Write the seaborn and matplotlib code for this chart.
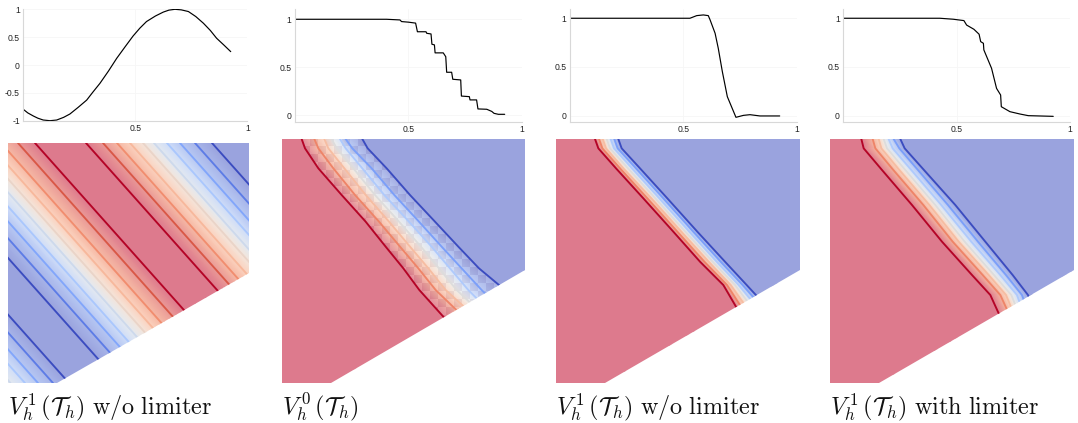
import numpy as np
import matplotlib
matplotlib.use("Agg")
import matplotlib.pyplot as plt
from matplotlib.colors import LinearSegmentedColormap, ListedColormap
from matplotlib.patches import Polygon
import seaborn as sns

W, H = 1078, 423
sns.set_theme(style="white")
plt.rcParams['font.family'] = ['Liberation Sans', 'DejaVu Sans']
plt.rcParams['mathtext.fontset'] = 'cm'

# profile curves
sine_x = [0, .02, .045, .065, .089, .119, .149, .18, .208, .245, .283, .31, .342, .38, .417, .455, .49, .52, .55,
          .59, .625, .65, .677, .705, .737, .77, .804, .835, .863, .895, .926]
sine_y = [-.796, -.86, -.916, -.955, -.988, -1, -.988, -.94, -.88, -.76, -.63, -.49, -.33, -.11, .12, .33, .52, .66, .78,
          .88, .95, .985, 1, .99, .96, .87, .75, .62, .48, .36, .24]
p0_x = [0, .404, .463, .47, .5, .532, .54, .578, .581, .6, .604, .615, .618, .654, .665, .669, .691, .696, .731,
        .734, .769, .772, .801, .807, .846, .868, .878, .897, .925]
p0_y = [1, 1, .993, .976, .97, .96, .87, .87, .854, .847, .74, .733, .65, .65, .61, .448, .448, .375, .368,
        .2, .194, .16, .16, .066, .0625, .04, .02, .01, .01]
nolim_x = [0, .529, .559, .588, .61, .618, .64, .654, .672, .694, .732, .765, .794, .838, .925]
nolim_y = [1, 1, 1.027, 1.034, 1.027, .983, .846, .692, .452, .195, -.017, .003, .01, -.003, -.003]
lim_x = [0, .426, .485, .532, .544, .576, .599, .606, .618, .62, .654, .676, .694, .697, .735, .779, .816, .926]
lim_y = [1, 1, .99, .976, .93, .887, .836, .76, .743, .675, .486, .28, .212, .092, .041, .017, 0, -.007]

# contour positions, panel 1: x where each straight contour meets the top edge
p1_cross = [-211.5, -197, -184, -169, -153, -102.5, -85, -70, -56.6, -44, -32, -20, -7, 10, 27,
            78, 95, 109, 122, 135, 146, 159, 172, 187, 204]
p1_level = [4/9, 3/9, 2/9, 1/9, 0, 0, 1/9, 2/9, 3/9, 4/9, 5/9, 6/9, 7/9, 8/9, 1,
            1, 8/9, 7/9, 6/9, 5/9, 4/9, 3/9, 2/9, 1/9, 0]
p1_rows = [0, 240]

# panels 2-4: contour x at each row, seven levels, last row runs past the bottom edge
levels = [1, .8, .65, .5, .35, .2, 0]
p2_rows = [12, 40, 100, 180, 260, 335, 400, 465, 545, 760]
p2_lines = [[80, 90, 130, 200, 272, 332, 385, 433, 505, 700],
            [118, 130, 175, 240, 312, 375, 430, 482, 565, 760],
            [148, 160, 208, 272, 342, 405, 460, 512, 600, 795],
            [170, 185, 235, 300, 372, 438, 492, 545, 630, 825],
            [195, 212, 262, 328, 402, 470, 525, 580, 660, 855],
            [212, 232, 290, 358, 432, 500, 560, 620, 700, 895],
            [262, 278, 335, 405, 480, 550, 612, 690, 765, 960]]
p3_rows = [12, 40, 100, 190, 290, 380, 450, 515, 600, 760]
p3_lines = [[135, 145, 198, 280, 370, 450, 520, 558, 640, 790],
            [147, 157, 210, 292, 382, 463, 531, 573, 655, 805],
            [158, 168, 220, 304, 394, 476, 542, 588, 670, 820],
            [170, 180, 234, 316, 406, 488, 555, 604, 685, 835],
            [182, 192, 246, 328, 418, 500, 566, 620, 700, 850],
            [193, 203, 258, 340, 430, 512, 578, 635, 715, 865],
            [205, 215, 270, 352, 442, 525, 590, 650, 730, 880]]
p4_rows = [12, 40, 105, 210, 320, 420, 480, 535, 620, 760]
p4_lines = [[118, 125, 180, 270, 360, 450, 505, 530, 600, 730],
            [152, 160, 214, 304, 392, 482, 535, 560, 630, 760],
            [170, 178, 232, 322, 410, 500, 552, 575, 645, 775],
            [185, 195, 250, 340, 428, 516, 568, 590, 660, 790],
            [200, 212, 268, 358, 448, 535, 585, 605, 675, 805],
            [215, 232, 288, 378, 468, 552, 600, 620, 690, 820],
            [235, 248, 306, 400, 490, 572, 618, 640, 710, 840]]

captions = [r'$V_h^{\,1}\,(\mathcal{T}_h)\ \mathrm{w/o\ limiter}$', r'$V_h^{\,0}\,(\mathcal{T}_h)$',
            r'$V_h^{\,1}\,(\mathcal{T}_h)\ \mathrm{w/o\ limiter}$', r'$V_h^{\,1}\,(\mathcal{T}_h)\ \mathrm{with\ limiter}$']

fill_cmap = LinearSegmentedColormap.from_list("fill", [(0, "#9AA3DE"), (.2, "#B3C4F2"), (.35, "#D3E0F9"),
                                                       (.5, "#EFEEEA"), (.65, "#FCD6C3"), (.8, "#F5B5A0"),
                                                       (1, "#DD7A8D")])
line_cmap = sns.color_palette("coolwarm", as_cmap=True)

fig = plt.figure(figsize=(W/100, H/100), dpi=100)


def px_axes(x0, y0, x1, y1):
    return fig.add_axes([x0/W, 1-y1/H, (x1-x0)/W, (y1-y0)/H])


def profile(x0, x1, y_top, y_bot, ylim, yticks, xs, ys):
    ax = px_axes(x0, y_top, x1, y_bot)
    sns.lineplot(x=xs, y=ys, color="black", linewidth=0.85, estimator=None, sort=False, ax=ax)
    ax.set_xlim(0, 1)
    ax.set_ylim(*ylim)
    ax.set_xticks([.5, 1], ["0.5", "1"])
    ax.set_yticks(yticks, [f"{t:g}" for t in yticks])
    ax.grid(True, color="#f6f6f6", linewidth=.6)
    sns.despine(ax=ax)
    for s in ["left", "bottom"]:
        ax.spines[s].set_color("#d8d8d8")
        ax.spines[s].set_linewidth(.8)
    ax.tick_params(length=0, pad=2.5, labelsize=6.2, labelcolor="#222222")
    ax.set_zorder(2)
    return ax


def field(box, xlim, ylim, domain, rows, lines, vals, left, right):
    # mesh corners sit on the contours, the renderer shades between them
    ax = px_axes(*box)
    cols = [[left[0]]*len(rows)] + lines + [[right[0]]*len(rows)]
    cval = [left[1]] + vals + [right[1]]
    X = np.array(cols).T
    Y = np.array([rows]*len(cols)).T
    C = np.array([cval]*len(rows))
    clip = Polygon(domain, transform=ax.transData)
    mesh = ax.pcolormesh(X, Y, C, shading="gouraud", cmap=fill_cmap, vmin=0, vmax=1)
    mesh.set_clip_path(clip)
    for xs, v in zip(lines, vals):
        n = len(ax.lines)
        sns.lineplot(x=xs, y=rows, color=line_cmap(float(v)), linewidth=1.35, estimator=None, sort=False, ax=ax)
        ax.lines[n].set_clip_path(clip)
    ax.set_xlim(*xlim)
    ax.set_ylim(*ylim)
    ax.axis("off")
    return ax


profile(23.3, 247.3, 9.3, 120.7, (-1, 1), [-1, -.5, 0, .5, 1], sine_x, sine_y)
profile(295, 521.7, 9, 121.7, (-.067, 1.107), [0, .5, 1], p0_x, p0_y)
profile(570, 796.7, 9, 121.7, (-.062, 1.095), [0, .5, 1], nolim_x, nolim_y)
profile(843.3, 1070, 9, 121.7, (-.062, 1.095), [0, .5, 1], lim_x, lim_y)

p1_lines = [[c, c+214] for c in p1_cross]
field((8, 143, 249.3, 382.7), (0, 241.3), (239.7, 0), [(0, 0), (241.3, 0), (241.3, 130), (49, 240), (0, 240)],
      p1_rows, p1_lines, p1_level, (-400, 5/9), (800, 0))

ax2 = field((282, 139, 525, 382.7), (21, 750), (743, 12), [(21, 12), (750, 12), (750, 405), (167, 743), (21, 743)],
            p2_rows, p2_lines, levels, (-900, 1), (2200, 0))
ax3 = field((556, 139, 800, 382.7), (18, 750), (743, 12), [(18, 12), (750, 12), (750, 405), (165, 743), (18, 743)],
            p3_rows, p3_lines, levels, (-900, 1), (2200, 0))
ax4 = field((830, 139, 1074, 382.7), (24, 756), (743, 12), [(24, 12), (756, 12), (756, 405), (172, 743), (24, 743)],
            p4_rows, p4_lines, levels, (-900, 1), (2200, 0))

# piecewise constant cells of the V0 panel, as a checker inside the front
check = np.indices((26, 32)).sum(axis=0) % 2
band = list(zip(p2_lines[0][:9], p2_rows[:9])) + [(672, 450)] + list(zip(p2_lines[6][:7], p2_rows[:7]))[::-1]
cells = ax2.imshow(check, cmap=ListedColormap([(1, 1, 1, .12), (.45, .25, .45, .08)]), vmin=0, vmax=1, zorder=1.5,
                   extent=(9, 777, 612, -12), aspect="auto", interpolation="nearest")
cells.set_clip_path(Polygon(band, transform=ax2.transData))
ax2.set_xlim(21, 750)
ax2.set_ylim(743, 12)

for x, s in zip([8, 282, 556, 830], captions):
    fig.text(x/W, 1-414/H, s, fontsize=17.4, color="#111111", ha="left", va="baseline")

fig.savefig("out.png", dpi=100)
